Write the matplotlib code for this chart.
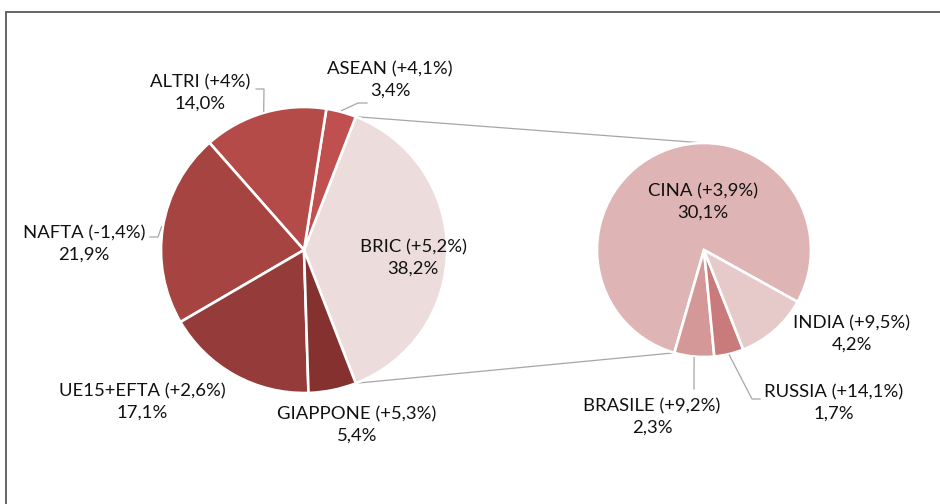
import numpy as np
import matplotlib.pyplot as plt

plt.rcParams['font.family'] = ['Lato', 'DejaVu Sans']

# pie principale
main_labels = ["BRIC", "ASEAN", "ALTRI", "NAFTA", "UE15+EFTA", "GIAPPONE"]
main_var = ["+5,2%", "+4,1%", "+4%", "-1,4%", "+2,6%", "+5,3%"]
main_vals = [38.2, 3.4, 14.0, 21.9, 17.1, 5.4]
main_colors = ["#EDDCDC", "#C0504F", "#B44B48", "#A64442", "#953B3A", "#853130"]

# dettaglio BRIC
sub_labels = ["CINA", "BRASILE", "RUSSIA", "INDIA"]
sub_var = ["+3,9%", "+9,2%", "+14,1%", "+9,5%"]
sub_vals = [30.1, 2.3, 1.7, 4.2]
sub_colors = ["#DFB4B4", "#D49898", "#C97A7A", "#E6C9C9"]

W, H = 940, 504
fig = plt.figure(figsize=(W / 100, H / 100), dpi=100)
ax = fig.add_axes([0, 0, 1, 1])

c1, r1 = (304, H - 250), 143
c2, r2 = (704, H - 250), 107
start1 = -main_vals[0] * 3.6 / 2
start2 = -29

wp = dict(edgecolor="white", linewidth=1.9)
w1, _ = ax.pie(main_vals, colors=main_colors, startangle=start1, center=c1,
               radius=r1, wedgeprops=wp, frame=True)
w2, _ = ax.pie(sub_vals, colors=sub_colors, startangle=start2, center=c2,
               radius=r2, wedgeprops=wp, frame=True)

ax.set_xlim(0, W)
ax.set_ylim(0, H)
ax.set_aspect("equal")
ax.axis("off")


def pt(center, r, ang):
    a = np.deg2rad(ang)
    return center[0] + r * np.cos(a), center[1] + r * np.sin(a)


def mid(w):
    return (w.theta1 + w.theta2) / 2


# linee di collegamento
gray = "#A6A6A6"
b = w1[0]
for a_main, a_sub in [(b.theta2, 90), (b.theta1, w2[0].theta2)]:
    p, q = pt(c1, r1, a_main), pt(c2, r2, a_sub)
    ax.plot([p[0], q[0]], [p[1], q[1]], color=gray, lw=0.9, zorder=0)

fs = 13.3
txt = dict(ha="center", va="center", fontsize=fs, color="#111111", linespacing=1.38)

# etichette: (x, y immagine) del centro del testo
main_pos = [(413, 258), (390, 80), (200, 93), (84, 244), (142, 402), (357, 425)]
sub_pos = [(703, 202), (652, 417), (834, 403), (852, 334)]

for w, name, var, v, (x, y) in zip(w1, main_labels, main_var, main_vals, main_pos):
    ax.text(x, H - y, f"{name} ({var})\n{v:.1f}%".replace(".", ","), **txt)
for w, name, var, v, (x, y) in zip(w2, sub_labels, sub_var, sub_vals, sub_pos):
    ax.text(x, H - y, f"{name} ({var})\n{v:.1f}%".replace(".", ","), **txt)

# linee guida (gomito, fine) in coordinate immagine
leaders = [
    (w1[1], c1, r1, [(358, 103), (367, 103)]),
    (w1[2], c1, r1, [(264, 89), (256, 89)]),
    (w1[3], c1, r1, [(158, 237), (150, 237)]),
    (w2[1], c2, r2, [(694, 389)]),
    (w2[2], c2, r2, [(752, 399), (760, 399)]),
]
for w, c, r, pts in leaders:
    p = pt(c, r * 1.01, mid(w))
    xs = [p[0]] + [q[0] for q in pts]
    ys = [p[1]] + [H - q[1] for q in pts]
    ax.plot(xs, ys, color=gray, lw=0.9)

# cornice
ax.plot([6, 6, W + 5], [-5, H - 12, H - 12], color="#595959", lw=1.3,
        solid_joinstyle="miter", clip_on=False)

fig.savefig("out.png", dpi=100)
